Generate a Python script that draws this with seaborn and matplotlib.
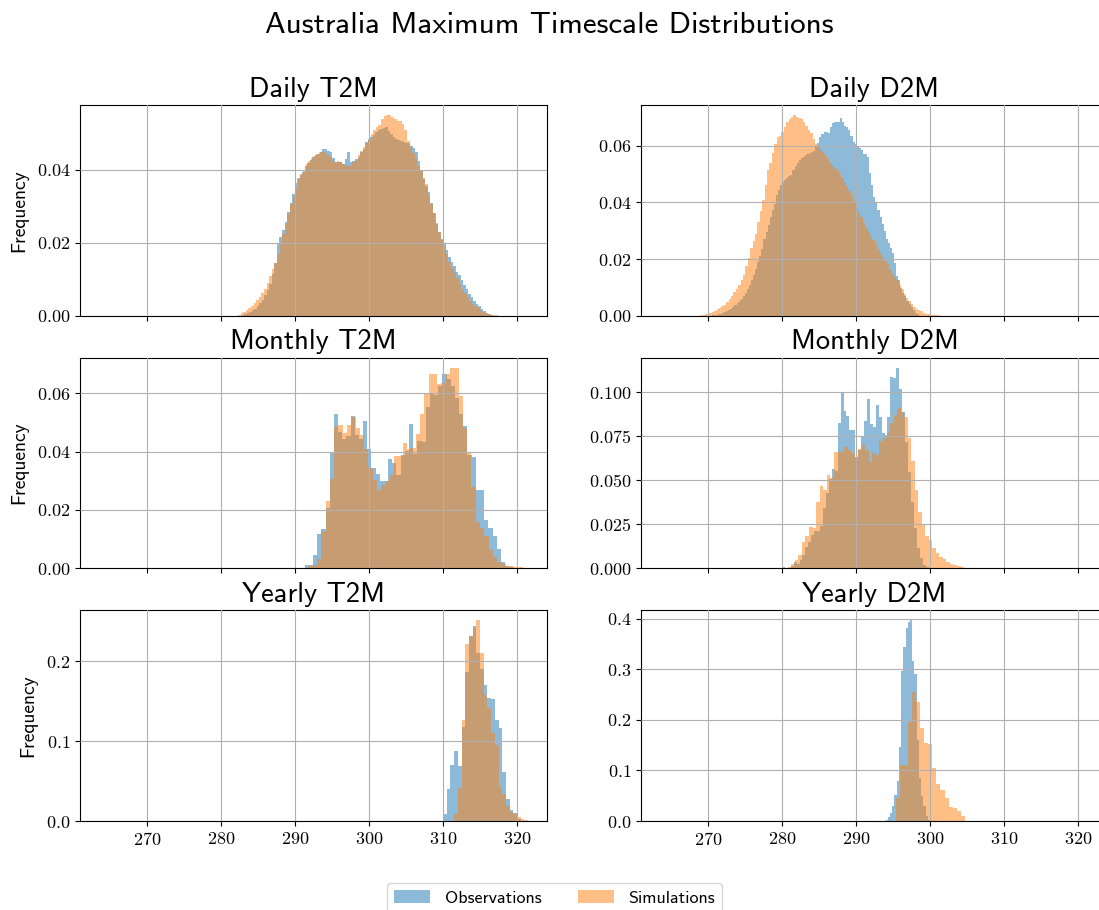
import warnings
import numpy as np
import pandas as pd
import matplotlib
matplotlib.use("Agg")
import matplotlib.pyplot as plt
import seaborn as sns
from matplotlib.patches import Patch
from matplotlib.ticker import MultipleLocator

warnings.filterwarnings("ignore")
plt.rcParams["font.family"] = "cmr10"
plt.rcParams["mathtext.fontset"] = "cm"
plt.rcParams["axes.formatter.use_mathtext"] = True

SANS = "cmss10"
C_OBS, C_SIM = "#1f77b4", "#ff7f0e"

# --- histogram heights (density) ---
# daily / monthly values are given in units of 1e-3
daily_t2m_obs = [0.2,0.4,0.6,1.0,1.4,1.9,2.6,3.5,4.3,5.6,
    7.0,8.8,11.5,14.5,19.5,21.5,23.6,25.8,28.5,31.0,
    33.3,36.5,37.6,38.6,39.5,41.0,41.8,42.8,43.6,44.0,
    44.3,45.0,45.6,45.8,45.2,45.0,43.2,42.0,42.2,42.0,
    41.6,43.0,45.0,42.0,42.3,42.9,43.5,44.8,45.8,47.5,
    48.5,49.0,49.6,50.3,50.8,51.2,51.5,51.7,50.5,49.7,
    49.0,48.5,48.2,48.0,47.6,47.3,47.3,46.6,46.0,44.8,
    42.5,40.0,37.4,35.5,34.0,31.0,28.0,25.0,23.0,21.0,
    19.5,18.0,16.0,14.8,13.5,12.0,11.0,9.8,8.3,7.2,
    6.0,5.0,4.0,3.2,2.5,1.8,1.2,0.8,0.5,0.2]
daily_t2m_sim = [0.3,0.6,1.1,1.5,2.0,2.6,3.4,4.2,5.2,6.3,
    7.4,9.0,10.8,12.8,14.5,16.8,19.5,22.5,25.0,27.8,
    30.5,32.8,35.0,37.5,38.8,40.0,41.6,42.5,43.2,43.8,
    44.4,44.8,44.8,44.8,44.2,43.6,42.5,42.0,42.3,42.0,
    41.5,41.1,41.1,41.0,42.0,42.8,44.0,45.2,46.2,47.2,
    48.2,49.8,51.0,51.6,52.2,53.8,54.8,55.0,54.9,54.6,
    54.0,53.5,53.4,52.5,51.0,48.0,46.5,44.5,43.0,41.0,
    39.8,37.8,36.0,33.0,30.5,28.0,25.4,22.8,20.8,18.8,
    17.0,14.8,13.0,11.6,10.2,8.8,7.4,6.2,5.2,4.0,
    3.2,2.6,2.0,1.4,1.0,0.7,0.5,0.3,0.2,0.1]
daily_d2m_obs = [0.1,0.2,0.3,0.5,0.7,0.9,1.2,1.5,1.9,2.4,
    2.9,3.6,4.3,5.0,5.8,6.8,8.0,9.3,10.8,12.5,
    14.5,16.5,18.8,21.0,23.5,27.0,29.5,32.0,35.0,37.5,
    39.5,42.5,44.5,46.2,47.3,48.0,48.8,49.2,49.8,51.5,
    53.0,54.0,55.0,55.8,56.2,56.8,57.3,57.6,57.9,58.2,
    59.5,61.0,63.2,64.2,65.0,64.8,64.5,66.8,68.0,68.5,
    68.4,68.6,69.7,68.5,67.0,66.5,65.5,63.5,61.5,60.5,
    60.1,59.4,58.5,57.2,57.1,56.0,50.5,46.0,42.0,40.0,
    37.5,35.0,32.5,30.0,27.0,25.6,24.0,22.0,18.5,14.0,
    12.5,9.6,8.0,6.8,5.2,4.2,3.0,2.0,1.0,0.4]
daily_d2m_sim = [0.1,0.2,0.4,0.7,0.9,1.4,1.8,2.4,2.8,3.3,
    3.9,4.8,6.0,7.0,8.2,9.4,10.8,12.5,14.5,17.5,
    20.5,24.0,26.5,29.0,33.0,37.0,41.0,46.0,51.3,54.0,
    57.5,60.5,63.0,63.5,65.0,66.8,68.5,69.5,70.2,70.9,
    70.3,70.0,69.5,68.6,67.0,65.5,64.4,62.5,60.8,59.5,
    58.5,57.6,56.5,55.5,54.0,53.0,52.2,51.3,50.0,48.8,
    47.0,45.8,44.2,42.6,40.6,38.2,36.5,34.8,32.8,30.8,
    29.4,28.1,26.8,25.5,23.6,22.3,20.6,19.4,18.1,16.2,
    14.8,13.8,12.5,10.8,9.3,7.6,6.3,5.2,4.2,3.1,
    2.4,1.9,1.5,1.0,0.7,0.5,0.3,0.2,0.1,0.1]
monthly_t2m_obs = [1.1,1.1,4.6,11.8,13.5,20.6,39.8,52.9,46.7,44.4,
    45.4,52.3,45.8,44.3,50.6,40.9,34.3,32.4,29.8,29.8,
    37.5,36.1,32.1,38.9,40.3,49.6,39.2,43.7,43.3,55.3,
    59.8,59.5,62.6,66.6,64.9,62.4,58.4,52.7,48.9,38.9,
    38.0,26.9,26.9,16.4,13.7,11.2,6.6,2.3,0.9,0.5]
monthly_t2m_sim = [0.9,1.1,3.2,12.6,22.9,30.7,48.4,49.0,46.4,49.2,
    51.7,47.9,45.8,40.9,34.3,30.3,26.9,28.6,29.8,32.1,
    38.6,38.4,42.9,40.9,41.2,46.0,52.9,59.8,66.6,66.4,
    63.0,63.5,66.6,68.7,68.7,59.0,48.1,39.5,27.7,16.0,
    13.7,10.9,6.3,4.0,2.3,1.4,0.9,0.7,0.5,0.3]
monthly_d2m_obs = [0.8,0.0,0.0,1.1,3.4,2.5,4.7,7.6,12.3,15.2,
    18.9,21.2,21.4,24.2,34.1,42.6,50.9,56.3,55.5,82.8,
    99.8,89.4,86.7,78.6,78.6,63.1,67.2,74.4,83.7,96.2,
    81.8,80.5,92.8,86.0,76.7,75.8,86.2,108.7,108.3,114.0,
    101.7,89.0,72.0,54.9,37.9,22.7,11.4,5.7,1.9,0.6]
monthly_d2m_sim = [0.6,2.3,4.7,7.6,15.2,18.4,23.7,23.1,37.9,46.8,
    44.5,53.0,51.1,66.3,66.3,66.9,68.8,67.2,65.7,62.5,
    67.8,70.1,67.2,60.6,65.3,64.4,72.3,74.2,76.7,82.4,
    87.1,90.9,89.0,86.2,73.9,61.0,44.5,32.2,24.6,18.4,
    16.1,11.4,8.5,6.6,5.3,3.4,2.3,1.9,1.3,0.9]
# yearly values are plain densities
yearly_t2m_obs = [0.0092,0.0395,0.0697,0.0874,0.0685,0.118,0.186,0.2315,0.244,0.21,
    0.19,0.17,0.154,0.153,0.126,0.116,0.061,0.028,0.014,0.010,0.0025]
yearly_t2m_sim = [0.0088,0.041,0.126,0.221,0.2315,0.242,0.251,0.210,0.158,0.141,
    0.110,0.095,0.042,0.034,0.019,0.011,0.009,0.0046,0.0025,0.0017]
yearly_d2m_obs = [0.002,0.008,0.015,0.03,0.052,0.080,0.147,0.297,0.345,0.383,
    0.394,0.397,0.317,0.290,0.16,0.085,0.05,0.03,0.01,0.002]
yearly_d2m_sim = [0.045,0.11,0.11,0.196,0.256,0.235,0.184,0.154,0.153,0.105,
    0.073,0.062,0.045,0.028,0.026,0.02,0.009]

# first / last bin edge of each histogram (K)
daily_t2m_obs_rng, daily_t2m_sim_rng = (282.8, 316.8), (282.3, 317.4)
daily_d2m_obs_rng, daily_d2m_sim_rng = (270.5, 298.5), (268.9, 301.3)
monthly_t2m_obs_rng, monthly_t2m_sim_rng = (291.3, 319.5), (291.8, 320.8)
monthly_d2m_obs_rng, monthly_d2m_sim_rng = (280.0, 299.8), (280.8, 304.6)
yearly_t2m_obs_rng, yearly_t2m_sim_rng = (310.0, 320.5), (311.5, 321.5)
yearly_d2m_obs_rng, yearly_d2m_sim_rng = (294.0, 300.0), (295.4, 304.7)

titles = ["Daily T2M", "Daily D2M", "Monthly T2M", "Monthly D2M", "Yearly T2M", "Yearly D2M"]
scales = [1e-3, 1e-3, 1e-3, 1e-3, 1, 1]
ytick_steps = [0.02, 0.02, 0.02, 0.025, 0.1, 0.1]
xticks = [270, 280, 290, 300, 310, 320]
panels = [
    (daily_t2m_obs, daily_t2m_obs_rng, daily_t2m_sim, daily_t2m_sim_rng),
    (daily_d2m_obs, daily_d2m_obs_rng, daily_d2m_sim, daily_d2m_sim_rng),
    (monthly_t2m_obs, monthly_t2m_obs_rng, monthly_t2m_sim, monthly_t2m_sim_rng),
    (monthly_d2m_obs, monthly_d2m_obs_rng, monthly_d2m_sim, monthly_d2m_sim_rng),
    (yearly_t2m_obs, yearly_t2m_obs_rng, yearly_t2m_sim, yearly_t2m_sim_rng),
    (yearly_d2m_obs, yearly_d2m_obs_rng, yearly_d2m_sim, yearly_d2m_sim_rng),
]


def draw_hist(ax, heights, rng, scale, color):
    h = np.asarray(heights, float) * scale
    edges = np.linspace(rng[0], rng[1], len(h) + 1)
    df = pd.DataFrame({"temp": (edges[:-1] + edges[1:]) / 2, "freq": h})
    sns.histplot(data=df, x="temp", weights="freq", bins=edges.tolist(), stat="count",
                 ax=ax, color=color, alpha=0.5, linewidth=0)


fig, axes = plt.subplots(3, 2, figsize=(10.99, 9.10), dpi=100, sharex=True)
fig.subplots_adjust(left=0.0728, right=1.0082, top=0.8846, bottom=0.0978,
                    wspace=0.201, hspace=0.2)

for i, ax in enumerate(axes.flat):
    obs, obs_rng, sim, sim_rng = panels[i]
    draw_hist(ax, obs, obs_rng, scales[i], C_OBS)
    draw_hist(ax, sim, sim_rng, scales[i], C_SIM)
    ax.set_title(titles[i], fontfamily=SANS, fontsize=20.5)
    ax.grid(True, color="#b0b0b0", linewidth=0.8)
    ax.set_axisbelow(False)
    ax.yaxis.set_major_locator(MultipleLocator(ytick_steps[i]))
    ax.tick_params(labelsize=13)
    ax.set_xlim(260.95, 324.05)
    ax.set_xlabel("")
    if i % 2 == 0:
        ax.set_ylabel("Frequency", fontfamily=SANS, fontsize=14, labelpad=6)
    else:
        ax.set_ylabel("")

for ax in axes[-1]:
    ax.set_xticks(xticks)

fig.suptitle("Australia Maximum Timescale Distributions", fontfamily=SANS,
             fontsize=22.3, y=0.9725, va="center")

handles = [Patch(facecolor=C_OBS, alpha=0.5, label="Observations"),
           Patch(facecolor=C_SIM, alpha=0.5, label="Simulations")]
fig.legend(handles=handles, loc="upper center", bbox_to_anchor=(0.5045, 0.0396),
           ncol=2, prop={"family": SANS, "size": 13}, frameon=True)

fig.savefig("out.png", dpi=100)
